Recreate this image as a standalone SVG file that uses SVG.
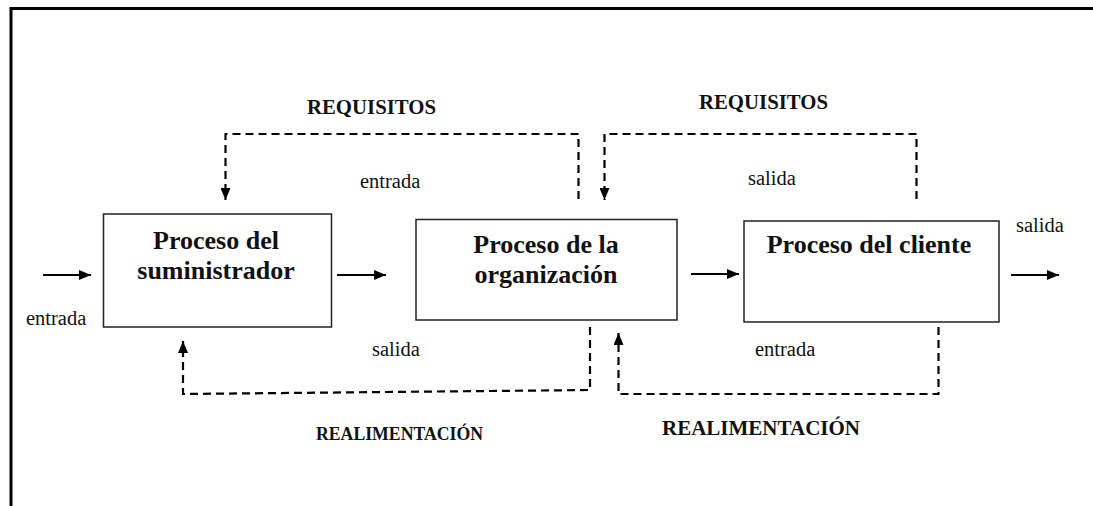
<svg xmlns="http://www.w3.org/2000/svg" width="1093" height="506" viewBox="0 0 1093 506">
  <style>
    .frame { stroke: #000; stroke-width: 3; fill: none; }
    .box { fill: #fff; stroke: #222; stroke-width: 1.5; }
    text { font-family: 'Liberation Serif', Tinos, 'Times New Roman', 'DejaVu Serif', serif; fill: #111; }
    .title { font-weight: bold; font-size: 26px; text-anchor: middle; }
    .lbl { font-size: 20.5px; }
    .head { font-weight: bold; font-size: 21px; }
    .solid { stroke: #000; stroke-width: 2; fill: none; }
    .dash { stroke: #000; stroke-width: 2.2; fill: none; stroke-dasharray: 8 5; }
  </style>
  <defs>
    <marker id="arr" markerUnits="userSpaceOnUse" markerWidth="12" markerHeight="10" refX="12" refY="5" orient="auto">
      <path d="M0,0 L12,5 L0,10 z" fill="#000" stroke="none"/>
    </marker>
  </defs>
  <rect width="1093" height="506" fill="#fff"/>
  <g id="frame">
    <path class="frame" d="M11,506 V8.5 H1093"/>
  </g>
  <g id="connectors">
    <line class="solid" x1="43" y1="275" x2="91" y2="275" marker-end="url(#arr)"/>
    <line class="solid" x1="337" y1="275" x2="386" y2="275" marker-end="url(#arr)"/>
    <line class="solid" x1="691" y1="274" x2="739" y2="274" marker-end="url(#arr)"/>
    <line class="solid" x1="1011" y1="275" x2="1059" y2="275" marker-end="url(#arr)"/>
    <path class="dash" d="M578.5,199 V134 H225.5 V200" marker-end="url(#arr)"/>
    <path class="dash" d="M916.5,199 V134 H604.5 V200" marker-end="url(#arr)"/>
    <path class="dash" d="M590,327 V390 L183,394 V341" marker-end="url(#arr)"/>
    <path class="dash" d="M938.5,327 V394 H618.5 V333" marker-end="url(#arr)"/>
  </g>
  <g id="node-suministrador">
    <rect class="box" x="103.5" y="214" width="228" height="113"/>
    <text class="title" x="216" y="249" font-family="Liberation Serif, serif">Proceso del</text>
    <text class="title" x="216" y="279" font-family="Liberation Serif, serif">suministrador</text>
  </g>
  <g id="node-organizacion">
    <rect class="box" x="416" y="219.5" width="261" height="100.5"/>
    <text class="title" x="546" y="253">Proceso de la</text>
    <text class="title" x="546" y="283">organización</text>
  </g>
  <g id="node-cliente">
    <rect class="box" x="744" y="221" width="255" height="101"/>
    <text class="title" x="869" y="253">Proceso del cliente</text>
  </g>
  <g id="labels">
    <text class="head" x="307" y="114" textLength="129" lengthAdjust="spacingAndGlyphs">REQUISITOS</text>
    <text class="head" x="699" y="109" textLength="129" lengthAdjust="spacingAndGlyphs">REQUISITOS</text>
    <text class="head" x="316" y="440" textLength="167" lengthAdjust="spacingAndGlyphs" style="font-size:18px">REALIMENTACIÓN</text>
    <text class="head" x="662" y="435" textLength="198" lengthAdjust="spacingAndGlyphs">REALIMENTACIÓN</text>
    <text class="lbl" x="26" y="325">entrada</text>
    <text class="lbl" x="360" y="188">entrada</text>
    <text class="lbl" x="372" y="356">salida</text>
    <text class="lbl" x="748" y="185">salida</text>
    <text class="lbl" x="1016" y="232">salida</text>
    <text class="lbl" x="755" y="356">entrada</text>
  </g>
</svg>
